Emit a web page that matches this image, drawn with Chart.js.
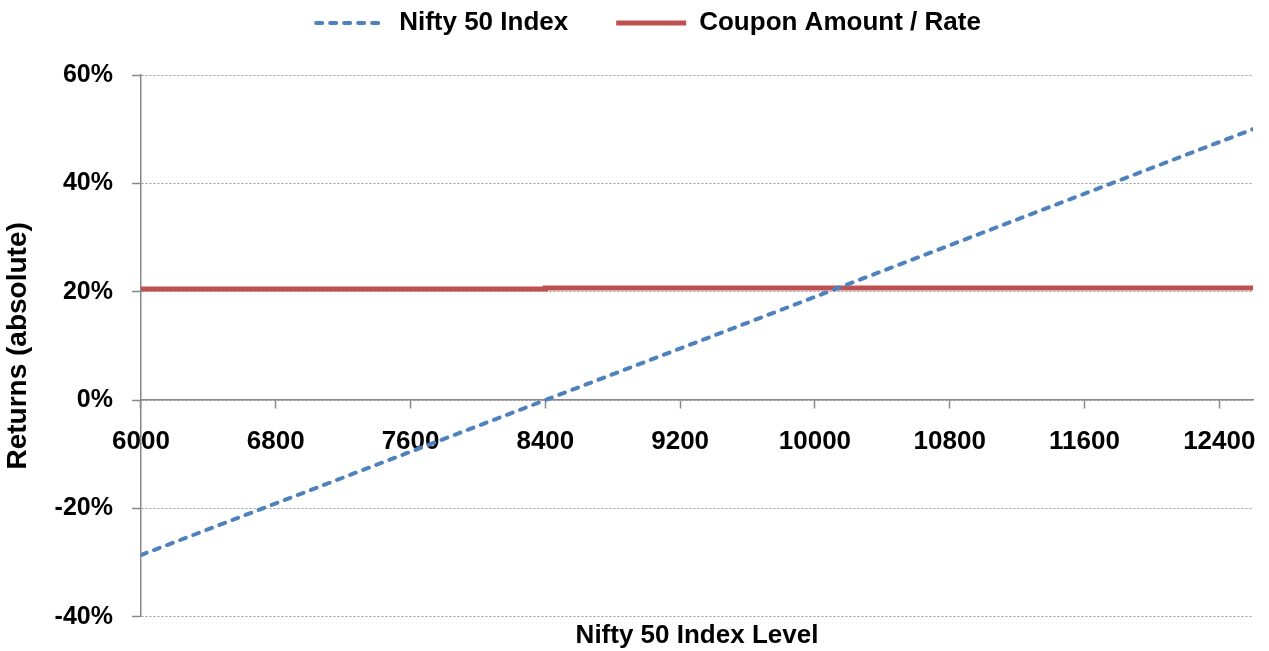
<!DOCTYPE html>
<html>
<head>
<meta charset="utf-8">
<title>Nifty 50 Index vs Coupon</title>
<script src="https://cdn.jsdelivr.net/npm/chart.js@4.4.1/dist/chart.umd.min.js"></script>
<style>
    html, body { margin: 0; padding: 0; background: #fff; }
    #wrap { width: 1269px; height: 651px; }
</style>
</head>
<body>
<div id="wrap"><canvas id="payoffChart"></canvas></div>
<script>
// Index levels (x) and absolute returns in % (y)
const niftyLevels = [6000, 8400, 12600];
const niftyReturns = [-28.6, 0, 50];

const couponLevels = [6000, 8400, 8400, 12600];
const couponRates = [20.5, 20.5, 20.7, 20.7];

const xTickValues = [6000, 6800, 7600, 8400, 9200, 10000, 10800, 11600, 12400];
const yTickValues = [-40, -20, 0, 20, 40, 60];

const toPoints = (xs, ys) => xs.map((x, i) => ({ x: x, y: ys[i] }));

Chart.defaults.font.family = "'Liberation Sans', Arial, sans-serif";
Chart.defaults.font.weight = 'bold';
Chart.defaults.color = '#000';

// Push the plot area down below the legend
const legendSpacing = {
    id: 'legendSpacing',
    beforeInit(chart) {
        const fit = chart.legend.fit;
        chart.legend.fit = function() {
            fit.call(this);
            this.height += 29;
            this.lineWidths[0] -= 44; // nudge legend to the right
        };
    }
};

const ctx = document.getElementById('payoffChart').getContext('2d');
new Chart(ctx, {
    type: 'line',
    data: {
        datasets: [{
            label: 'Nifty 50 Index',
            data: toPoints(niftyLevels, niftyReturns),
            borderColor: '#4F81BD',
            backgroundColor: '#4F81BD',
            borderWidth: 4,
            borderDash: [6, 8],
            borderCapStyle: 'round',
            pointRadius: 0
        }, {
            label: 'Coupon Amount / Rate',
            data: toPoints(couponLevels, couponRates),
            borderColor: '#C0504D',
            backgroundColor: '#C0504D',
            borderWidth: 5,
            pointRadius: 0
        }]
    },
    options: {
        responsive: true,
        maintainAspectRatio: false,
        animation: false,
        layout: {
            padding: { top: -38, right: 16, left: 0, bottom: 0 }
        },
        scales: {
            x: {
                type: 'linear',
                position: { y: 0 },
                min: 6000,
                max: 12600,
                afterBuildTicks: axis => {
                    axis.ticks = xTickValues.map(v => ({ value: v }));
                },
                // labels sit on the zero line, no need for side padding
                afterFit: axis => {
                    axis.paddingLeft = 0;
                    axis.paddingRight = 0;
                },
                ticks: {
                    font: { size: 26 },
                    padding: 18,
                    maxRotation: 0,
                    autoSkip: false,
                    callback: value => String(value)
                },
                grid: {
                    drawOnChartArea: false,
                    tickLength: 8,
                    tickColor: '#888',
                    tickWidth: 1.5
                },
                border: { color: '#888', width: 1.5 }
            },
            y: {
                min: -40,
                max: 60,
                afterBuildTicks: axis => {
                    axis.ticks = yTickValues.map(v => ({ value: v }));
                },
                ticks: {
                    font: { size: 25 },
                    padding: 19,
                    callback: value => value + '%'
                },
                grid: {
                    color: '#999',
                    lineWidth: 1,
                    tickLength: 9,
                    tickColor: '#888',
                    tickWidth: 1.5,
                    tickBorderDash: []
                },
                border: { color: '#888', width: 1.5, dash: [2, 2] },
                title: {
                    display: true,
                    text: 'Returns (absolute)',
                    font: { size: 28 },
                    padding: { top: 1, bottom: 1 }
                }
            }
        },
        plugins: {
            legend: {
                labels: {
                    usePointStyle: true,
                    pointStyle: 'line',
                    pointStyleWidth: 70,
                    padding: 48,
                    font: { size: 26 },
                    // legend samples follow the dataset line style
                    generateLabels: chart => Chart.defaults.plugins.legend.labels.generateLabels(chart).map(item => {
                        const ds = chart.data.datasets[item.datasetIndex];
                        item.strokeStyle = ds.borderColor;
                        item.lineWidth = ds.borderWidth;
                        item.lineDash = ds.borderDash || [];
                        item.lineCap = ds.borderCapStyle || 'butt';
                        return item;
                    })
                }
            },
            title: {
                display: true,
                position: 'bottom',
                fullSize: false,
                text: 'Nifty 50 Index Level',
                font: { size: 26 },
                padding: { top: 3, bottom: 0 }
            },
            tooltip: { enabled: false }
        }
    },
    plugins: [legendSpacing]
});
</script>
</body>
</html>
